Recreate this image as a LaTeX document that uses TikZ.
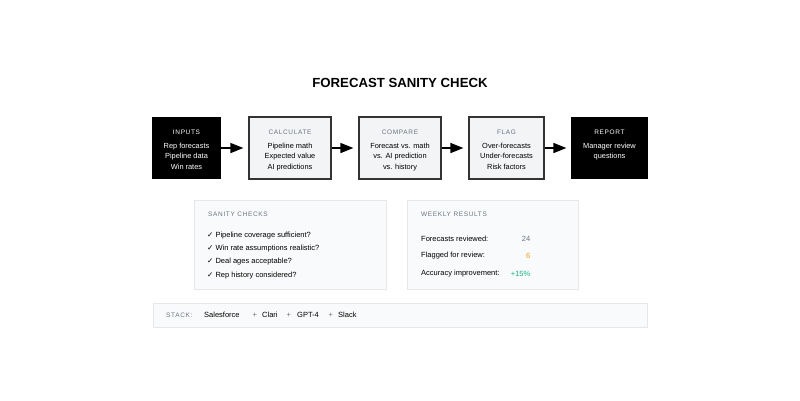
\documentclass[tikz,border=0pt]{standalone}
\usepackage{fontspec}
\setmainfont{Liberation Sans}
\newfontfamily\spc[LetterSpace=10]{Liberation Sans}
\newfontfamily\chk{DejaVu Sans}
\usetikzlibrary{arrows.meta}
\definecolor{boxgray}{HTML}{F3F4F6}
\definecolor{panelfill}{HTML}{F9FAFB}
\definecolor{panelline}{HTML}{E5E7EB}
\definecolor{hdrgray}{HTML}{6B7280}
\definecolor{orng}{HTML}{F59E0B}
\definecolor{grn}{HTML}{10B981}
\tikzset{
  stepdark/.style={draw=black, line width=1.2pt, fill=black, minimum height=61pt, inner sep=0pt},
  steplight/.style={draw=black!80, line width=1.2pt, fill=boxgray, minimum height=62pt, inner sep=0pt},
  hdrw/.style={text=white, font=\spc\fontsize{6.5}{7}\selectfont, inner sep=0pt},
  hdrg/.style={text=hdrgray, font=\spc\fontsize{6.5}{7}\selectfont, inner sep=0pt},
  bodyw/.style={text=white, font=\fontsize{7.4}{10.5}\selectfont, align=center, inner sep=0pt},
  bodyb/.style={text=black, font=\fontsize{7.4}{10.5}\selectfont, align=center, inner sep=0pt},
  panel/.style={draw=panelline, line width=0.8pt, fill=panelfill, inner sep=0pt},
  phdr/.style={text=hdrgray, font=\spc\fontsize{6.5}{7}\selectfont, anchor=west, inner sep=0pt},
  ptxt/.style={text=black, font=\fontsize{7.5}{8}\selectfont, anchor=west, inner sep=0pt},
  flow/.style={-{Triangle[length=13pt,width=10pt]}, line width=1.4pt, black, shorten >=5pt},
}
\begin{document}
\begin{tikzpicture}[x=1pt,y=-1pt]
\useasboundingbox[fill=white] (0,0) rectangle (800,400);

\node[font=\bfseries\fontsize{13.2}{15}\selectfont] (title) at (400,83) {FORECAST SANITY CHECK};

% steps
\node[stepdark, minimum width=67pt] (inp) at (186.5,148) {};
\node[steplight, minimum width=82pt] (calc) at (290,148) {};
\node[steplight, minimum width=82pt] (comp) at (400,148) {};
\node[steplight, minimum width=75pt] (flag) at (506.5,148) {};
\node[stepdark, minimum width=75pt] (rep) at (609.5,148) {};

\node[hdrw] (inph) at (186.5,132) {INPUTS};
\node[bodyw, anchor=north] (inpb) at (186.5,142.5) {Rep forecasts\\Pipeline data\\Win rates};
\node[hdrg] (calch) at (290,132) {CALCULATE};
\node[bodyb, anchor=north] (calcb) at (290,142.5) {Pipeline math\\Expected value\\AI predictions};
\node[hdrg] (comph) at (400,132) {COMPARE};
\node[bodyb, anchor=north] (compb) at (400,142.5) {Forecast vs. math\\vs. AI prediction\\vs. history};
\node[hdrg] (flagh) at (506.5,132) {FLAG};
\node[bodyb, anchor=north] (flagb) at (506.5,142.5) {Over-forecasts\\Under-forecasts\\Risk factors};
\node[hdrw] (reph) at (609.5,132) {REPORT};
\node[bodyw, anchor=north] (repb) at (609.5,142.5) {Manager review\\questions};

\draw[flow] (inp.east) -- (calc.west);
\draw[flow] (calc.east) -- (comp.west);
\draw[flow] (comp.east) -- (flag.west);
\draw[flow] (flag.east) -- (rep.west);

% sanity checks panel
\node[panel, minimum width=192pt, minimum height=89pt] (sc) at (290,244.5) {};
\node[phdr] (sch) at (208,214) {SANITY CHECKS};
\node[ptxt] (s1) at (207,236) {{\chk\fontsize{7.5}{8}\selectfont ✓} Pipeline coverage sufficient?};
\node[ptxt] (s2) at (207,249) {{\chk\fontsize{7.5}{8}\selectfont ✓} Win rate assumptions realistic?};
\node[ptxt] (s3) at (207,262) {{\chk\fontsize{7.5}{8}\selectfont ✓} Deal ages acceptable?};
\node[ptxt] (s4) at (207,276) {{\chk\fontsize{7.5}{8}\selectfont ✓} Rep history considered?};

% weekly results panel
\node[panel, minimum width=171pt, minimum height=89pt] (wr) at (492.5,244.5) {};
\node[phdr] (wrh) at (421,214) {WEEKLY RESULTS};
\node[ptxt] (w1) at (421,238.5) {Forecasts reviewed:};
\node[ptxt] (w2) at (421,256) {Flagged for review:};
\node[ptxt] (w3) at (421,273.5) {Accuracy improvement:};
\node[ptxt, anchor=east, text=hdrgray] (v1) at (530.5,238.5) {24};
\node[ptxt, anchor=east, text=orng] (v2) at (530.5,256) {6};
\node[ptxt, anchor=east, text=grn] (v3) at (530.5,273.5) {+15\%};

% stack bar
\node[panel, minimum width=494pt, minimum height=24pt] (st) at (400,315) {};
\node[phdr] (sth) at (166,315) {STACK:};
\node[ptxt] (t1) at (204,315) {Salesforce};
\node[ptxt, text=hdrgray] (p1) at (252.5,315.5) {+};
\node[ptxt] (t2) at (262,315) {Clari};
\node[ptxt, text=hdrgray] (p2) at (286.5,315.5) {+};
\node[ptxt] (t3) at (297,315) {GPT-4};
\node[ptxt, text=hdrgray] (p3) at (328.5,315.5) {+};
\node[ptxt] (t4) at (338,315) {Slack};
\end{tikzpicture}
\end{document}
